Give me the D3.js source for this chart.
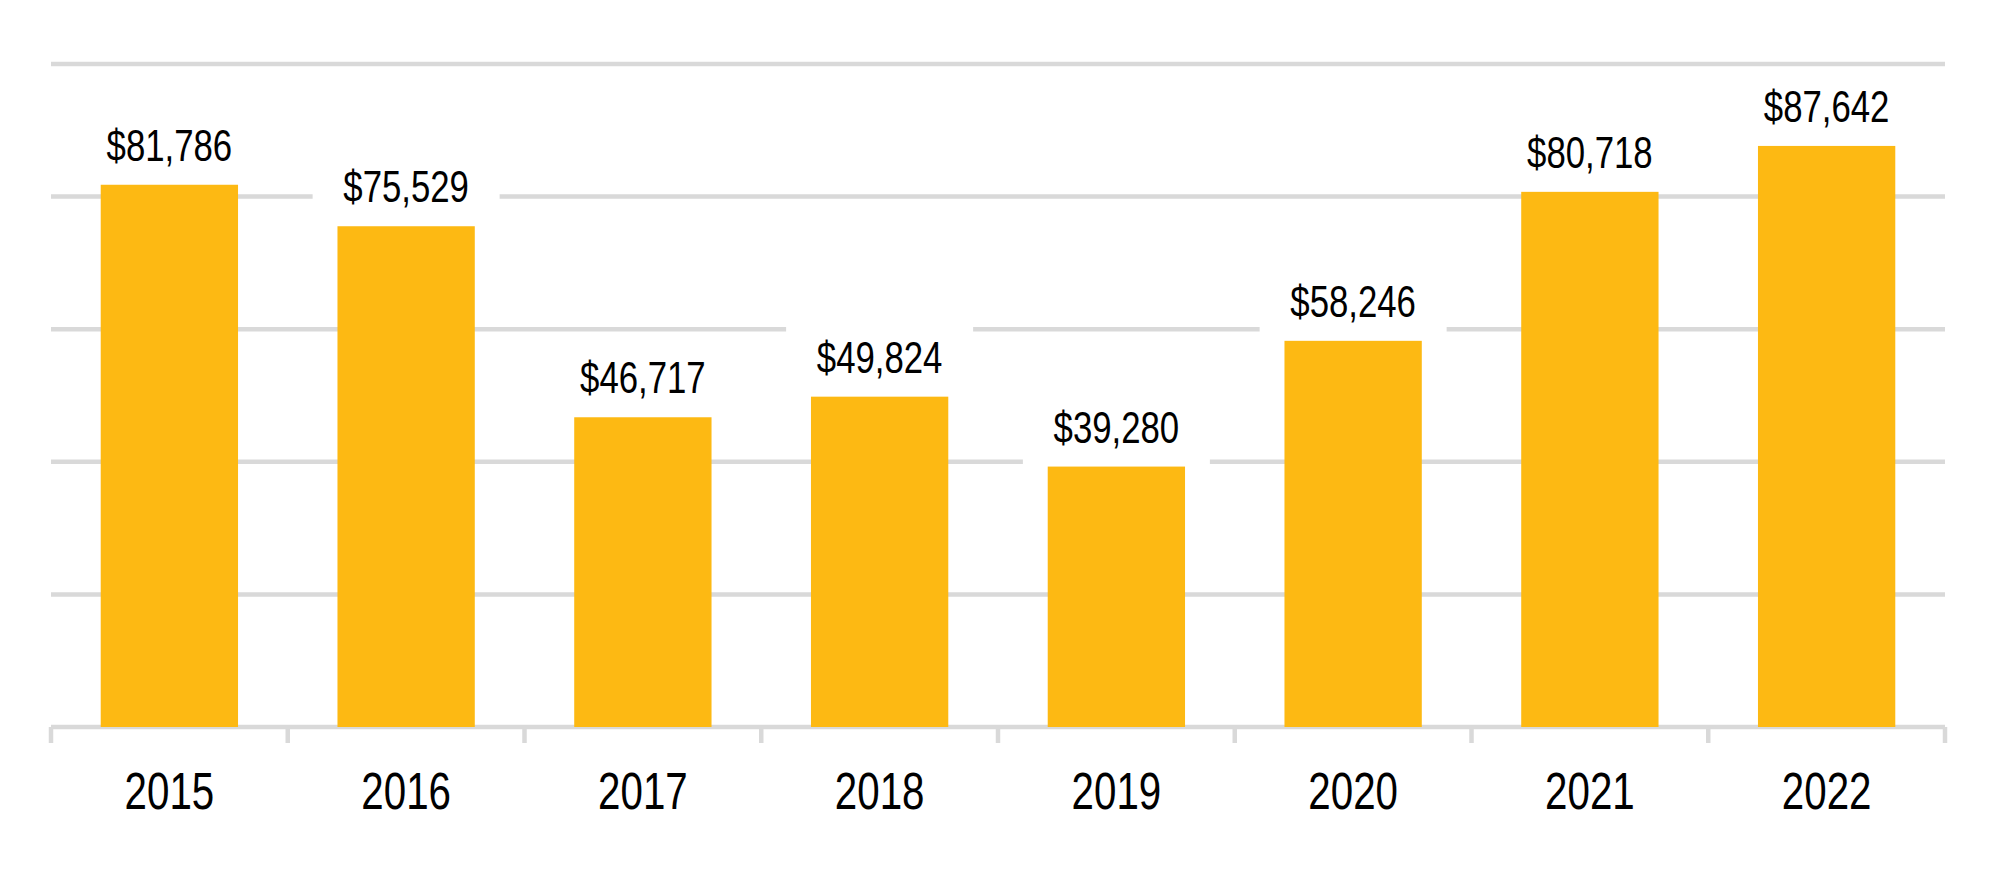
<!DOCTYPE html>
<html>
<head>
<meta charset="utf-8">
<script src="https://cdn.jsdelivr.net/npm/d3@7"></script>
<style>
  html, body { margin: 0; padding: 0; background: #fff; }
  svg { display: block; }
</style>
</head>
<body>
<div id="chart"></div>
<script>
const years = ['2015', '2016', '2017', '2018', '2019', '2020', '2021', '2022']
const values = [81786, 75529, 46717, 49824, 39280, 58246, 80718, 87642]
const gridValues = [20000, 40000, 60000, 80000, 100000]

const WIDTH = 2000
const HEIGHT = 875
const MARGIN = { top: 64, bottom: 148, left: 51, right: 55 }
const BAR_COLOR = '#FDB913'
const GRID_COLOR = '#d9d9d9'
const GRID_SIZE = 4.5
// no condensed face installed, so squeeze a regular one horizontally
const FONT = '"Liberation Sans", Arial, sans-serif'
const SQUEEZE = 0.79

const innerWd = WIDTH - (MARGIN.left + MARGIN.right)
const innerHt = HEIGHT - (MARGIN.top + MARGIN.bottom)

const x = d3.scaleBand()
  .domain(years)
  .range([0, innerWd])
  .paddingInner(0.42)
  .paddingOuter(0.21)
const y = d3.scaleLinear()
  .domain([0, 100000])
  .range([innerHt, 0])
const step = x.step()
const bandCenter = d => x(d) + x.bandwidth() / 2

const data = years.map((year, i) => ({ year, value: values[i] }))
const fmt = d3.format('$,')

const svg = d3.select('#chart')
  .append('svg')
  .attr('width', WIDTH)
  .attr('height', HEIGHT)
  .style('background', '#fff')

const wrapper = svg.append('g')
  .attr('transform', 'translate(' + MARGIN.left + ',' + MARGIN.top + ')')

// Horizontal gridlines
wrapper.append('g')
  .selectAll('line')
  .data(gridValues)
  .enter()
  .append('line')
  .attr('x1', 0)
  .attr('x2', innerWd)
  .attr('y1', d => y(d))
  .attr('y2', d => y(d))
  .attr('stroke', GRID_COLOR)
  .attr('stroke-width', GRID_SIZE)

// Baseline with category ticks between bands
const axis = wrapper.append('g')
axis.append('line')
  .attr('x1', 0)
  .attr('x2', innerWd)
  .attr('y1', y(0))
  .attr('y2', y(0))
  .attr('stroke', GRID_COLOR)
  .attr('stroke-width', GRID_SIZE)
axis.selectAll('.tick')
  .data(d3.range(years.length + 1))
  .enter()
  .append('line')
  .attr('class', 'tick')
  .attr('x1', i => i * step)
  .attr('x2', i => i * step)
  .attr('y1', y(0))
  .attr('y2', y(0) + 16)
  .attr('stroke', GRID_COLOR)
  .attr('stroke-width', GRID_SIZE)

// White boxes behind the value labels (they break the gridlines)
wrapper.append('g')
  .selectAll('rect')
  .data(data)
  .enter()
  .append('rect')
  .attr('x', d => bandCenter(d.year) - 93.5)
  .attr('width', 187)
  .attr('y', d => y(d.value) - 72)
  .attr('height', 72)
  .attr('fill', '#fff')

// Bars
wrapper.append('g')
  .selectAll('rect')
  .data(data)
  .enter()
  .append('rect')
  .attr('x', d => x(d.year))
  .attr('width', x.bandwidth())
  .attr('y', d => y(d.value))
  .attr('height', d => innerHt - y(d.value))
  .attr('fill', BAR_COLOR)

// Value labels above the bars
wrapper.append('g')
  .selectAll('text')
  .data(data)
  .enter()
  .append('text')
  .text(d => fmt(d.value))
  .attr('transform', d =>
    'translate(' + bandCenter(d.year) + ',' + (y(d.value) - 24) + ') scale(' + SQUEEZE + ',1)')
  .attr('text-anchor', 'middle')
  .attr('font-family', FONT)
  .attr('font-size', 44)
  .attr('fill', '#000')

// Year labels
wrapper.append('g')
  .selectAll('text')
  .data(years)
  .enter()
  .append('text')
  .text(d => d)
  .attr('transform', d =>
    'translate(' + bandCenter(d) + ',' + (innerHt + 82) + ') scale(' + SQUEEZE + ',1)')
  .attr('text-anchor', 'middle')
  .attr('font-family', FONT)
  .attr('font-size', 51)
  .attr('fill', '#000')
</script>
</body>
</html>
